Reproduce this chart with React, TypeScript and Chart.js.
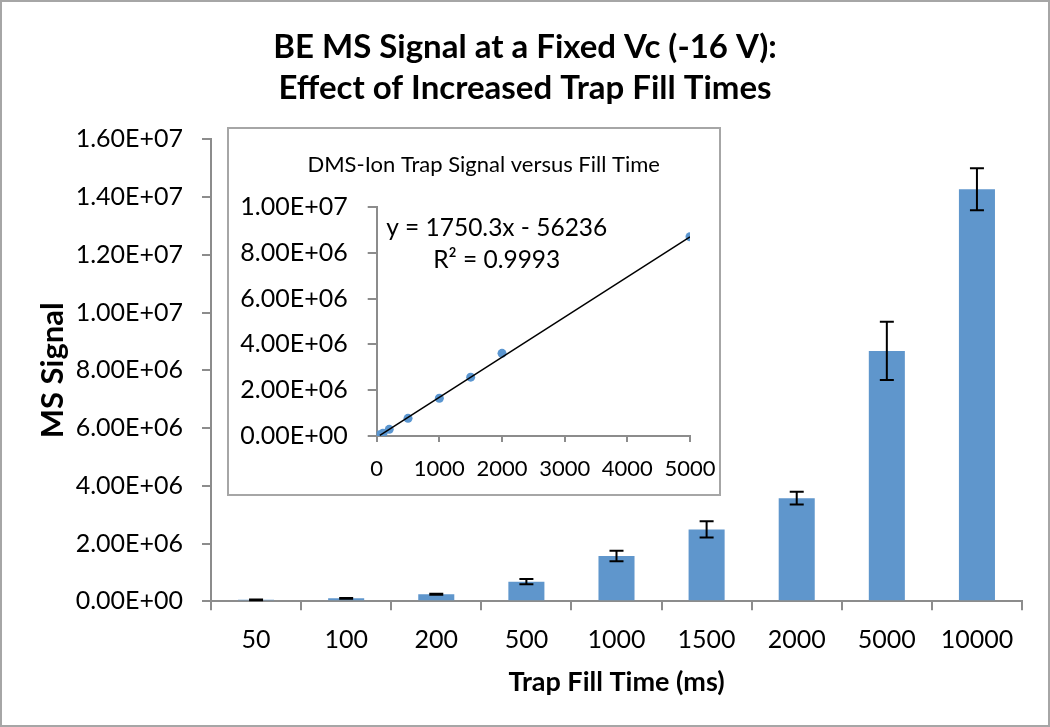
import React, { useEffect, useRef } from 'react';
import { Chart, registerables } from 'chart.js';

Chart.register(...registerables);

// ---------- data ----------
const titleLines = ['BE MS Signal at a Fixed Vc (-16 V):', 'Effect of Increased Trap Fill Times'];
const categories = ['50', '100', '200', '500', '1000', '1500', '2000', '5000', '10000'];
const msSignal = [5.0e4, 1.04e5, 2.45e5, 6.8e5, 1.57e6, 2.49e6, 3.57e6, 8.67e6, 1.427e7];
const msError = [1.5e4, 1.2e4, 1.5e4, 9.0e4, 1.8e5, 2.8e5, 2.2e5, 1.01e6, 7.3e5];
const yTickStep = 2e6;
const yMax = 1.6e7;

const insetTitle = 'DMS-Ion Trap Signal versus Fill Time';
const insetFillTime = [50, 100, 200, 500, 1000, 1500, 2000, 5000];
const insetSignal = [5.0e4, 1.2e5, 2.9e5, 7.7e5, 1.65e6, 2.57e6, 3.61e6, 8.7e6];
const trendSlope = 1750.3;
const trendIntercept = -56236;
const trendR2 = '0.9993';
const trendRange = [50, 5000];
const insetXMax = 5000;
const insetXStep = 1000;
const insetYMax = 1e7;
const insetYStep = 2e6;

// ---------- styles ----------
const FONT = 'Lato, "Open Sans", sans-serif';
const AXIS_GRAY = '#8c8c8c';
const BAR_BLUE = '#5f96cc';
const POINT_BLUE = '#5b96d0';

function sci(v: number): string {
  if (v === 0) return '0.00E+00';
  const e = Math.floor(Math.log10(Math.abs(v)) + 1e-9);
  const m = v / Math.pow(10, e);
  return m.toFixed(2) + 'E' + (e < 0 ? '-' : '+') + String(Math.abs(e)).padStart(2, '0');
}

const mainTitlePlugin = {
  id: 'mainTitle',
  afterDraw(chart: any) {
    const ctx = chart.ctx;
    ctx.save();
    ctx.fillStyle = '#000';
    ctx.textAlign = 'center';
    ctx.textBaseline = 'middle';
    ctx.font = `bold 33px ${FONT}`;
    const cx = chart.width / 2;
    titleLines.forEach((line, i) => {
      ctx.fillText(line, cx, 47 + i * 41);
    });
    ctx.restore();
  },
};

const errorBarPlugin = {
  id: 'errorBars',
  afterDatasetsDraw(chart: any) {
    const meta = chart.getDatasetMeta(0);
    const y = chart.scales.y;
    const ctx = chart.ctx;
    ctx.save();
    ctx.strokeStyle = '#000';
    ctx.lineWidth = 2;
    meta.data.forEach((bar: any, i: number) => {
      const v = msSignal[i];
      const e = msError[i];
      const yTop = y.getPixelForValue(v + e);
      const yBot = y.getPixelForValue(v - e);
      const x = bar.x;
      const cap = 7;
      ctx.beginPath();
      ctx.moveTo(x, yTop);
      ctx.lineTo(x, yBot);
      ctx.moveTo(x - cap, yTop);
      ctx.lineTo(x + cap, yTop);
      ctx.moveTo(x - cap, yBot);
      ctx.lineTo(x + cap, yBot);
      ctx.stroke();
    });
    ctx.restore();
  },
};

const insetTextPlugin = {
  id: 'insetText',
  afterDraw(chart: any) {
    const { ctx, chartArea } = chart;
    ctx.save();
    ctx.fillStyle = '#000';
    ctx.textAlign = 'center';
    ctx.textBaseline = 'middle';
    // chart title
    ctx.font = `22px ${FONT}`;
    ctx.fillText(insetTitle, chartArea.left + 107, chartArea.top - 42);
    // trendline equation
    ctx.font = `24.5px ${FONT}`;
    const cx = chartArea.left + 120;
    const sign = trendIntercept < 0 ? '-' : '+';
    ctx.fillText(`y = ${trendSlope}x ${sign} ${Math.abs(trendIntercept)}`, cx, chartArea.top + 21);
    ctx.fillText(`R\u00B2 = ${trendR2}`, cx, chartArea.top + 53);
    ctx.restore();
  },
};

export default function App() {
  const mainRef = useRef<HTMLCanvasElement>(null);
  const insetRef = useRef<HTMLCanvasElement>(null);

  useEffect(() => {
    const main = new Chart(mainRef.current as HTMLCanvasElement, {
      type: 'bar',
      data: {
        labels: categories,
        datasets: [
          {
            data: msSignal,
            backgroundColor: BAR_BLUE,
            borderWidth: 0,
            barPercentage: 0.4,
            categoryPercentage: 1,
          },
        ],
      },
      options: {
        responsive: false,
        animation: false,
        layout: { padding: { left: 0, right: 28, top: 139.3, bottom: 0 } },
        plugins: {
          legend: { display: false },
          tooltip: { enabled: false },
          title: { display: false },
        },
        scales: {
          x: {
            grid: {
              display: true,
              drawOnChartArea: false,
              drawTicks: true,
              tickLength: 9,
              color: AXIS_GRAY,
              lineWidth: 2,
              offset: true,
            },
            border: { color: AXIS_GRAY, width: 2 },
            ticks: { color: '#000', font: { family: FONT, size: 25 }, padding: 14.7, maxRotation: 0 },
            title: {
              display: true,
              text: 'Trap Fill Time (ms)',
              color: '#000',
              font: { family: FONT, size: 27, weight: 'bold' },
              padding: { top: 0, bottom: 28.8 },
            },
            afterFit: (s: any) => {
              s.height = 727 - 601.3;
            },
          },
          y: {
            min: 0,
            max: yMax,
            grid: {
              display: true,
              drawOnChartArea: false,
              drawTicks: true,
              tickLength: 9,
              color: AXIS_GRAY,
              lineWidth: 2,
            },
            border: { color: AXIS_GRAY, width: 2 },
            ticks: {
              stepSize: yTickStep,
              color: '#000',
              font: { family: FONT, size: 25 },
              padding: 19,
              callback: (v: any) => sci(Number(v)),
            },
            title: {
              display: true,
              text: 'MS Signal',
              color: '#000',
              font: { family: FONT, size: 31, weight: 'bold' },
              padding: { top: 34.4, bottom: 0 },
            },
            afterFit: (s: any) => {
              s.width = 211;
            },
          },
        },
      },
      plugins: [errorBarPlugin, mainTitlePlugin],
    } as any);

    const inset = new Chart(insetRef.current as HTMLCanvasElement, {
      type: 'scatter',
      data: {
        datasets: [
          {
            type: 'line',
            data: trendRange.map((x) => ({ x, y: trendSlope * x + trendIntercept })),
            borderColor: '#000',
            borderWidth: 1.5,
            pointRadius: 0,
            fill: false,
          },
          {
            data: insetFillTime.map((x, i) => ({ x, y: insetSignal[i] })),
            backgroundColor: POINT_BLUE,
            borderWidth: 0,
            pointRadius: 4.5,
          },
        ],
      },
      options: {
        responsive: false,
        animation: false,
        layout: { padding: { left: 0, right: 29, top: 78, bottom: 0 } },
        plugins: {
          legend: { display: false },
          tooltip: { enabled: false },
          title: { display: false },
        },
        scales: {
          x: {
            type: 'linear',
            min: 0,
            max: insetXMax,
            grid: {
              display: true,
              drawOnChartArea: false,
              drawTicks: true,
              tickLength: 6,
              color: AXIS_GRAY,
              lineWidth: 2,
            },
            border: { color: AXIS_GRAY, width: 2 },
            ticks: {
              stepSize: insetXStep,
              color: '#000',
              font: { family: FONT, size: 22 },
              padding: 13.8,
              maxRotation: 0,
              callback: (v: any) => String(v),
            },
            afterFit: (s: any) => {
              s.height = 58;
              s.paddingLeft = 0;
              s.paddingRight = 0;
            },
          },
          y: {
            min: 0,
            max: insetYMax,
            grid: {
              display: true,
              drawOnChartArea: false,
              drawTicks: true,
              tickLength: 9,
              color: AXIS_GRAY,
              lineWidth: 2,
            },
            border: { color: AXIS_GRAY, width: 2 },
            ticks: {
              stepSize: insetYStep,
              color: '#000',
              font: { family: FONT, size: 25 },
              padding: 20,
              callback: (v: any) => sci(Number(v)),
            },
            afterFit: (s: any) => {
              s.width = 147.7;
            },
          },
        },
      },
      plugins: [insetTextPlugin],
    } as any);

    return () => {
      main.destroy();
      inset.destroy();
    };
  }, []);

  return (
    <div style={{ position: 'fixed', left: 0, top: 0, width: 1050, height: 727, background: '#fff' }}>
      <canvas ref={mainRef} width={1050} height={727} style={{ position: 'absolute', left: 0, top: 0 }} />
      <div
        style={{
          position: 'absolute',
          left: 227,
          top: 127,
          width: 494,
          height: 369,
          boxSizing: 'border-box',
          border: '2px solid #a6a6a6',
          background: '#fff',
        }}
      >
        <canvas ref={insetRef} width={490} height={365} style={{ display: 'block' }} />
      </div>
      <div
        style={{
          position: 'absolute',
          left: 0,
          top: 0,
          width: 1050,
          height: 727,
          boxSizing: 'border-box',
          border: '2px solid #a6a6a6',
          pointerEvents: 'none',
        }}
      />
    </div>
  );
}
